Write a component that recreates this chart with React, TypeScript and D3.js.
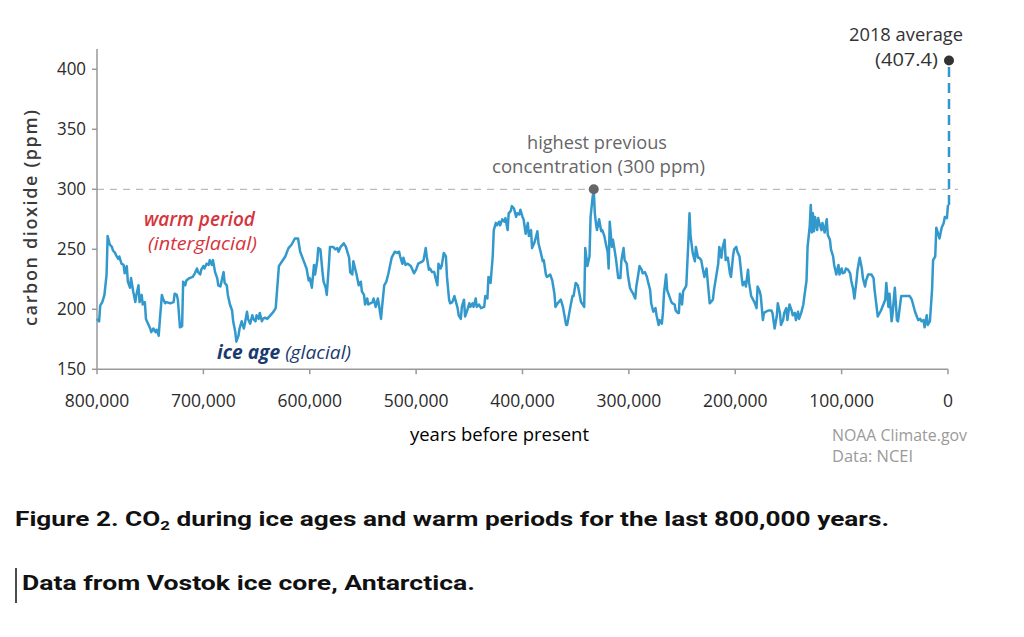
import React from "react";
import * as d3 from "d3";

// Age in thousands of years before present
const ageKa = [
  800, 798, 797, 795, 793, 791, 790, 788, 786, 785, 783, 782, 780, 779, 777, 775, 774, 772, 771, 769,
  768, 766, 764, 763, 761, 760, 758, 757, 755, 754, 752, 750, 749, 747, 745, 744, 742, 741, 739, 738,
  736, 735, 731, 728, 727, 725, 724, 722, 720, 719, 717, 716, 713, 710, 708, 706, 705, 703, 702, 700,
  699, 697, 695, 694, 692, 691, 689, 687, 686, 684, 683, 681, 680, 678, 677, 675, 673, 672, 670, 669,
  667, 666, 664, 662, 661, 659, 658, 656, 654, 653, 651, 650, 648, 647, 645, 644, 642, 640, 637, 634,
  632, 629, 626, 623, 620, 617, 614, 611, 609, 606, 603, 601, 600, 598, 596, 595, 593, 592, 590, 588,
  587, 585, 584, 582, 581, 578, 576, 574, 573, 571, 568, 566, 563, 562, 560, 559, 556, 554, 552, 551,
  549, 548, 546, 545, 541, 540, 538, 536, 535, 533, 532, 530, 528, 526, 523, 520, 518, 516, 515, 513,
  512, 510, 508, 505, 502, 500, 498, 494, 493, 491, 490, 488, 487, 485, 483, 482, 480, 479, 477, 476,
  474, 472, 471, 469, 468, 466, 464, 461, 460, 458, 457, 455, 454, 452, 450, 449, 447, 446, 444, 443,
  441, 439, 436, 435, 433, 432, 430, 428, 427, 425, 424, 422, 421, 419, 417, 416, 414, 413, 411, 410,
  408, 406, 405, 403, 402, 400, 399, 397, 395, 394, 392, 391, 389, 388, 386, 385, 383, 381, 380, 378,
  377, 374, 372, 370, 369, 367, 364, 362, 361, 359, 358, 356, 355, 353, 352, 350, 348, 345, 344, 342,
  341, 339, 337, 336, 334, 333, 332, 331, 330, 328, 326, 325, 323, 322, 320, 319, 318, 316, 315, 313,
  312, 310, 308, 307, 305, 304, 302, 301, 299, 298, 296, 294, 293, 291, 290, 288, 287, 285, 283, 282,
  280, 279, 277, 275, 274, 272, 271, 269, 268, 267, 265, 264, 262, 260, 259, 257, 256, 254, 253, 252,
  250, 249, 247, 246, 244, 243, 242, 240, 238, 237, 235, 234, 232, 231, 229, 227, 226, 224, 223, 221,
  220, 218, 216, 215, 213, 212, 210, 209, 207, 205, 204, 202, 201, 199, 198, 196, 194, 193, 191, 190,
  188, 187, 185, 182, 180, 179, 177, 176, 174, 173, 171, 169, 166, 165, 163, 161, 160, 158, 157, 155,
  154, 152, 151, 149, 147, 146, 144, 143, 141, 140, 138, 136, 135, 133, 132, 130, 129, 128, 127, 126,
  125, 123, 122, 121, 119, 118, 116, 114, 113, 111, 110, 108, 107, 105, 103, 102, 100, 99, 97, 96,
  94, 92, 91, 89, 88, 86, 85, 83, 81, 80, 78, 77, 75, 72, 70, 69, 66, 63, 59, 58,
  56, 55, 53, 52, 50, 48, 47, 45, 44, 36, 34, 31, 28, 26, 25, 23, 22, 20, 19, 17,
  15, 14, 12, 11, 9, 8, 6, 4, 3, 1, 0,
];

// CO2 concentration, ppm
const co2Ppm = [
  192, 190, 203, 206, 212, 229, 261, 254, 252, 249, 247, 245, 242, 244, 238, 237, 230, 236, 223, 218,
  226, 215, 206, 212, 220, 206, 212, 204, 206, 192, 188, 184, 181, 184, 181, 183, 178, 190, 212, 209,
  205, 206, 205, 206, 213, 212, 208, 185, 186, 223, 220, 224, 226, 227, 230, 234, 231, 229, 233, 236,
  234, 238, 237, 241, 237, 241, 231, 226, 220, 219, 223, 231, 222, 220, 212, 204, 199, 190, 181, 173,
  178, 184, 190, 184, 188, 198, 192, 188, 195, 192, 190, 195, 192, 197, 190, 192, 193, 192, 195, 198,
  201, 236, 240, 244, 251, 254, 259, 259, 248, 241, 234, 224, 226, 218, 237, 229, 240, 251, 250, 231,
  223, 218, 212, 237, 252, 252, 250, 251, 248, 252, 255, 252, 243, 231, 229, 240, 229, 220, 223, 215,
  212, 204, 209, 204, 206, 209, 202, 209, 204, 192, 202, 220, 223, 230, 243, 248, 247, 248, 244, 238,
  243, 237, 238, 236, 230, 233, 238, 240, 241, 251, 244, 233, 234, 231, 231, 227, 220, 238, 234, 236,
  247, 244, 227, 208, 205, 206, 211, 201, 195, 192, 202, 208, 194, 199, 205, 202, 205, 202, 209, 202,
  204, 201, 202, 211, 209, 227, 222, 244, 266, 272, 270, 273, 270, 275, 273, 276, 266, 280, 282, 286,
  284, 277, 280, 279, 283, 277, 275, 263, 272, 261, 266, 251, 255, 258, 265, 255, 248, 240, 241, 229,
  227, 229, 224, 213, 202, 205, 208, 202, 197, 187, 187, 197, 202, 211, 211, 222, 220, 206, 205, 202,
  251, 236, 244, 277, 294, 299, 280, 272, 266, 275, 265, 266, 261, 256, 248, 234, 273, 252, 258, 247,
  241, 226, 226, 241, 251, 241, 238, 229, 218, 216, 213, 209, 219, 230, 236, 233, 230, 231, 227, 223,
  216, 205, 198, 201, 195, 187, 191, 188, 197, 213, 229, 216, 211, 206, 205, 204, 199, 197, 197, 213,
  204, 215, 218, 220, 258, 280, 261, 247, 240, 252, 243, 243, 241, 236, 227, 234, 224, 205, 206, 208,
  216, 227, 238, 252, 243, 251, 258, 241, 243, 230, 227, 245, 250, 252, 248, 244, 227, 220, 223, 219,
  233, 222, 211, 206, 201, 219, 215, 211, 191, 197, 198, 199, 199, 197, 184, 194, 205, 197, 187, 191,
  197, 201, 191, 204, 199, 195, 197, 191, 198, 192, 197, 204, 211, 224, 252, 269, 287, 264, 280, 265,
  277, 266, 276, 272, 266, 272, 264, 275, 262, 258, 250, 244, 237, 229, 237, 229, 234, 230, 231, 234,
  233, 230, 224, 216, 209, 224, 233, 243, 234, 226, 219, 224, 229, 229, 226, 216, 194, 199, 208, 222,
  202, 213, 190, 197, 218, 191, 190, 204, 211, 211, 208, 198, 191, 192, 190, 191, 185, 195, 187, 190,
  216, 241, 244, 268, 262, 259, 268, 272, 277, 276, 287,
];

const yTickValues = [150, 200, 250, 300, 350, 400];
const xTickValues = [800, 700, 600, 500, 400, 300, 200, 100, 0];

const previousMax = { ageKa: 333, ppm: 300 };
const recent = { ageKa: 0, ppm: 407.4, startPpm: 287 };

export default function App() {
  const x = d3.scaleLinear().domain([800, 0]).range([97, 948]);
  const y = d3.scaleLinear().domain([150, 400]).range([369.3, 69.3]);
  const line = d3
    .line<number>()
    .x((_, i) => x(ageKa[i]))
    .y((d) => y(d));
  const fmt = d3.format(",");
  const font = "'Open Sans', 'Noto Sans', sans-serif";
  const blue = "#3399cc";

  return (
    <svg
      width={1024}
      height={637}
      style={{ position: "absolute", left: 0, top: 0, background: "#fff" }}
      fontFamily={font}
    >
      <rect width={1024} height={637} fill="#fff" />

      {/* 300 ppm reference line */}
      <line
        x1={x(800)}
        x2={958}
        y1={y(300)}
        y2={y(300)}
        stroke="#bbb"
        strokeWidth={1.3}
        strokeDasharray="7 6"
      />

      {/* axes */}
      <line x1={97} x2={97} y1={49} y2={y(150)} stroke="#999" strokeWidth={1.5} />
      <line x1={97} x2={x(0)} y1={y(150)} y2={y(150)} stroke="#999" strokeWidth={1.5} />
      {yTickValues.map((v) => (
        <g key={"y" + v}>
          <line x1={92} x2={97} y1={y(v)} y2={y(v)} stroke="#999" strokeWidth={1.5} />
          <text x={86} y={y(v) + 6} textAnchor="end" fontSize={17.5} fill="#2b2b2b" textLength={29} lengthAdjust="spacingAndGlyphs">
            {v}
          </text>
        </g>
      ))}
      {xTickValues.map((v) => (
        <g key={"x" + v}>
          <line x1={x(v)} x2={x(v)} y1={y(150)} y2={y(150) + 5} stroke="#999" strokeWidth={1.5} />
          <text x={x(v)} y={407} textAnchor="middle" fontSize={17.5} fill="#2b2b2b">
            {fmt(v * 1000)}
          </text>
        </g>
      ))}

      <text
        transform="translate(37,218) rotate(-90)"
        textAnchor="middle"
        fontSize={18}
        fontWeight={600}
        fill="#3a3a3a"
        textLength={216}
        lengthAdjust="spacing"
      >
        carbon dioxide (ppm)
      </text>
      <text x={499.5} y={441} textAnchor="middle" fontSize={18.5} fontWeight={500} fill="#000" textLength={179} lengthAdjust="spacingAndGlyphs">
        years before present
      </text>

      {/* CO2 series */}
      <path d={line(co2Ppm) || ""} fill="none" stroke={blue} strokeWidth={2.5} strokeLinejoin="round" />
      <line
        x1={x(recent.ageKa) + 1}
        x2={x(recent.ageKa) + 1}
        y1={y(recent.startPpm)}
        y2={y(recent.ppm)}
        stroke={blue}
        strokeWidth={2.5}
        strokeDasharray="10 6"
      />

      {/* annotations */}
      <circle cx={x(previousMax.ageKa)} cy={y(previousMax.ppm)} r={5} fill="#666" />
      <text x={597} y={149} textAnchor="middle" fontSize={18} fill="#666" textLength={140} lengthAdjust="spacingAndGlyphs">
        highest previous
      </text>
      <text x={598.5} y={173} textAnchor="middle" fontSize={18} fill="#666" textLength={213} lengthAdjust="spacingAndGlyphs">
        concentration (300 ppm)
      </text>

      <circle cx={x(recent.ageKa) + 1} cy={y(recent.ppm)} r={5} fill="#333" />
      <text x={906} y={41} textAnchor="middle" fontSize={18} fill="#333" textLength={114} lengthAdjust="spacingAndGlyphs">
        2018 average
      </text>
      <text x={938} y={66} textAnchor="end" fontSize={18} fill="#333" textLength={63} lengthAdjust="spacingAndGlyphs">
        (407.4)
      </text>

      <text x={199.5} y={226} textAnchor="middle" fontSize={19} fontStyle="italic" fontWeight={600} fill="#d6343c" textLength={111} lengthAdjust="spacingAndGlyphs">
        warm period
      </text>
      <text x={202.5} y={250} textAnchor="middle" fontSize={19} fontStyle="italic" fill="#d6343c" textLength={109} lengthAdjust="spacingAndGlyphs">
        (interglacial)
      </text>
      <text x={217} y={359} fontSize={19} fontStyle="italic" fill="#1b3a6e" textLength={134} lengthAdjust="spacingAndGlyphs">
        <tspan fontWeight={700}>ice age</tspan>
        <tspan> (glacial)</tspan>
      </text>

      {/* credits */}
      <text x={832} y={441} fontSize={16} fill="#9a9a9a" textLength={135} lengthAdjust="spacingAndGlyphs">
        NOAA Climate.gov
      </text>
      <text x={832} y={462} fontSize={16} fill="#9a9a9a" textLength={81} lengthAdjust="spacingAndGlyphs">
        Data: NCEI
      </text>

      {/* caption */}
      <g fontFamily="'Liberation Sans Narrow', 'Roboto', 'Noto Sans', sans-serif" fontWeight={700} fill="#111">
        <text x={15} y={526} fontSize={21} textLength={874} lengthAdjust="spacingAndGlyphs">
          Figure 2. CO
          <tspan fontSize={13.5} dy={4}>2</tspan>
          <tspan dy={-4}> during ice ages and warm periods for the last 800,000 years.</tspan>
        </text>
        <text x={22} y={590} fontSize={21} textLength={453} lengthAdjust="spacingAndGlyphs">
          Data from Vostok ice core, Antarctica.
        </text>
      </g>
      <line x1={16} x2={16} y1={568} y2={603} stroke="#111" strokeWidth={1.5} />
    </svg>
  );
}
